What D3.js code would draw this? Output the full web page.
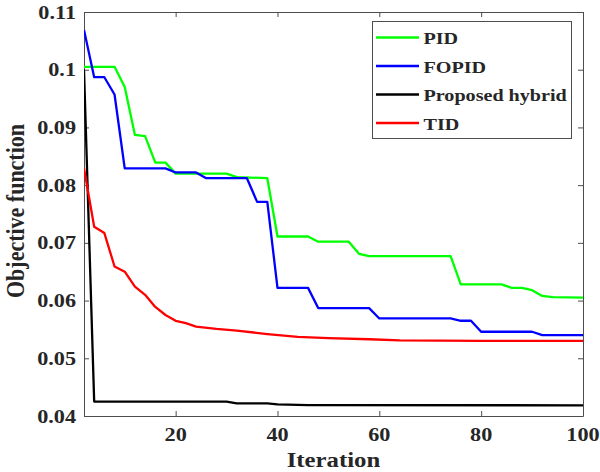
<!DOCTYPE html>
<html><head><meta charset="utf-8">
<script src="https://cdn.jsdelivr.net/npm/d3@7"></script>
<style>
html,body{margin:0;padding:0;background:#fff;}
svg{display:block;}
text{font-family:"Liberation Serif","Times New Roman",serif;font-weight:bold;fill:#262626;}
</style></head>
<body>
<svg id="chart" width="600" height="472"></svg>
<script>
// ---- data ----
const seriesNames = ["PID", "FOPID", "Proposed hybrid", "TID"];
const seriesColors = ["#00ff00", "#0000ff", "#000000", "#ff0000"];

const pidIter = [2, 8, 10, 12, 14, 16, 18, 20, 30, 32, 38, 40, 46, 48, 54, 56, 58, 74, 76, 84, 86, 88, 90, 92, 94, 100];
const pidVal  = [0.1005, 0.1005, 0.0970, 0.0887, 0.0885, 0.0839, 0.0839, 0.0820, 0.0820, 0.0814, 0.0812, 0.0711, 0.0711, 0.0702, 0.0702, 0.0681, 0.0677, 0.0677, 0.0628, 0.0628, 0.0622, 0.0622, 0.0618, 0.0608, 0.0606, 0.0605];

const fopidIter = [2, 4, 6, 8, 10, 18, 20, 24, 26, 34, 36, 38, 40, 46, 48, 58, 60, 74, 76, 78, 80, 90, 92, 100];
const fopidVal  = [0.1069, 0.0987, 0.0987, 0.0957, 0.0829, 0.0829, 0.0822, 0.0822, 0.0812, 0.0812, 0.0771, 0.0771, 0.0622, 0.0622, 0.0587, 0.0587, 0.0569, 0.0569, 0.0565, 0.0565, 0.0546, 0.0546, 0.0540, 0.0540];

const hybridIter = [2, 4, 30, 32, 38, 40, 46, 100];
const hybridVal  = [0.1000, 0.0425, 0.0425, 0.0422, 0.0422, 0.0420, 0.0419, 0.04185];

const tidIter = [2, 4, 6, 8, 10, 12, 14, 16, 18, 20, 22, 24, 28, 32, 38, 44, 50, 58, 64, 80, 100];
const tidVal  = [0.0829, 0.0728, 0.0717, 0.0659, 0.0650, 0.0624, 0.0610, 0.0589, 0.0575, 0.0565, 0.0561, 0.0555, 0.0551, 0.0548, 0.0542, 0.0537, 0.0535, 0.0533, 0.0531, 0.0530, 0.0530];

const xTicks = [20, 40, 60, 80, 100];
const yTicks = [0.04, 0.05, 0.06, 0.07, 0.08, 0.09, 0.1, 0.11];
const yTickLabels = ["0.04", "0.05", "0.06", "0.07", "0.08", "0.09", "0.1", "0.11"];
const xDomain = [2, 100];
const yDomain = [0.04, 0.11];

// ---- layout ----
const L = 84, R = 583, T = 12, B = 416;
const SX = 1.17; // horizontal stretch of the reference's text
const svg = d3.select("#chart");
const x = d3.scaleLinear().domain(xDomain).range([L, R]);
const y = d3.scaleLinear().domain(yDomain).range([B, T]);
const axisColor = "#4d4d4d";

// clip
svg.append("defs").append("clipPath").attr("id", "clip")
  .append("rect").attr("x", L).attr("y", T).attr("width", R - L).attr("height", B - T);

// axes frame with inward ticks
const tickLen = 5;
const gAx = svg.append("g");
gAx.append("g").attr("transform", `translate(0,${B})`)
  .call(d3.axisBottom(x).tickValues(xTicks).tickSizeInner(-tickLen).tickSizeOuter(0).tickFormat(""))
  .call(g => { g.select(".domain").attr("stroke", axisColor); g.selectAll(".tick line").attr("stroke", axisColor); });
gAx.append("g").attr("transform", `translate(0,${T})`)
  .call(d3.axisTop(x).tickValues(xTicks).tickSizeInner(-tickLen).tickSizeOuter(0).tickFormat(""))
  .call(g => { g.select(".domain").attr("stroke", axisColor); g.selectAll(".tick line").attr("stroke", axisColor); });
gAx.append("g").attr("transform", `translate(${L},0)`)
  .call(d3.axisLeft(y).tickValues(yTicks).tickSizeInner(-tickLen).tickSizeOuter(0).tickFormat(""))
  .call(g => { g.select(".domain").attr("stroke", axisColor); g.selectAll(".tick line").attr("stroke", axisColor); });
gAx.append("g").attr("transform", `translate(${R},0)`)
  .call(d3.axisRight(y).tickValues(yTicks).tickSizeInner(-tickLen).tickSizeOuter(0).tickFormat(""))
  .call(g => { g.select(".domain").attr("stroke", axisColor); g.selectAll(".tick line").attr("stroke", axisColor); });

// tick labels
svg.append("g").selectAll("text").data(xTicks).join("text")
  .attr("transform", d => `translate(${x(d)},441) scale(${SX},1)`)
  .attr("text-anchor", "middle").attr("font-size", 19).text(d => d);
svg.append("g").selectAll("text").data(yTicks).join("text")
  .attr("transform", d => `translate(76,${y(d) + 6.5}) scale(${SX},1)`)
  .attr("text-anchor", "end").attr("font-size", 19).text((d, i) => yTickLabels[i]);

// axis titles
svg.append("text").attr("transform", `translate(${(L + R) / 2},466.5) scale(1.18,1)`)
  .attr("text-anchor", "middle").attr("font-size", 21).text("Iteration");
svg.append("text").attr("transform", `translate(24,211) rotate(-90) scale(1,1.18)`)
  .attr("text-anchor", "middle").attr("font-size", 22).text("Objective function");

// lines
const series = [
  { it: pidIter, v: pidVal },
  { it: fopidIter, v: fopidVal },
  { it: hybridIter, v: hybridVal },
  { it: tidIter, v: tidVal }
];
const line = d3.line().x(d => x(d[0])).y(d => y(d[1]));
const gLines = svg.append("g").attr("clip-path", "url(#clip)");
series.forEach((s, i) => {
  gLines.append("path")
    .attr("d", line(s.it.map((t, k) => [t, s.v[k]])))
    .attr("fill", "none").attr("stroke", seriesColors[i])
    .attr("stroke-width", 2.3).attr("stroke-linejoin", "round");
});

// legend
const lg = svg.append("g");
lg.append("rect").attr("x", 372.5).attr("y", 21.5).attr("width", 199).attr("height", 117)
  .attr("fill", "#fff").attr("stroke", axisColor).attr("stroke-width", 1);
const rowY = [37.5, 66, 94.5, 123];
seriesNames.forEach((name, i) => {
  lg.append("line").attr("x1", 376).attr("x2", 419).attr("y1", rowY[i]).attr("y2", rowY[i])
    .attr("stroke", seriesColors[i]).attr("stroke-width", 2.3);
  lg.append("text").attr("transform", `translate(423.5,${rowY[i] + 6.5}) scale(1.15,1)`)
    .attr("font-size", 17.5).text(name);
});
</script>
</body></html>
